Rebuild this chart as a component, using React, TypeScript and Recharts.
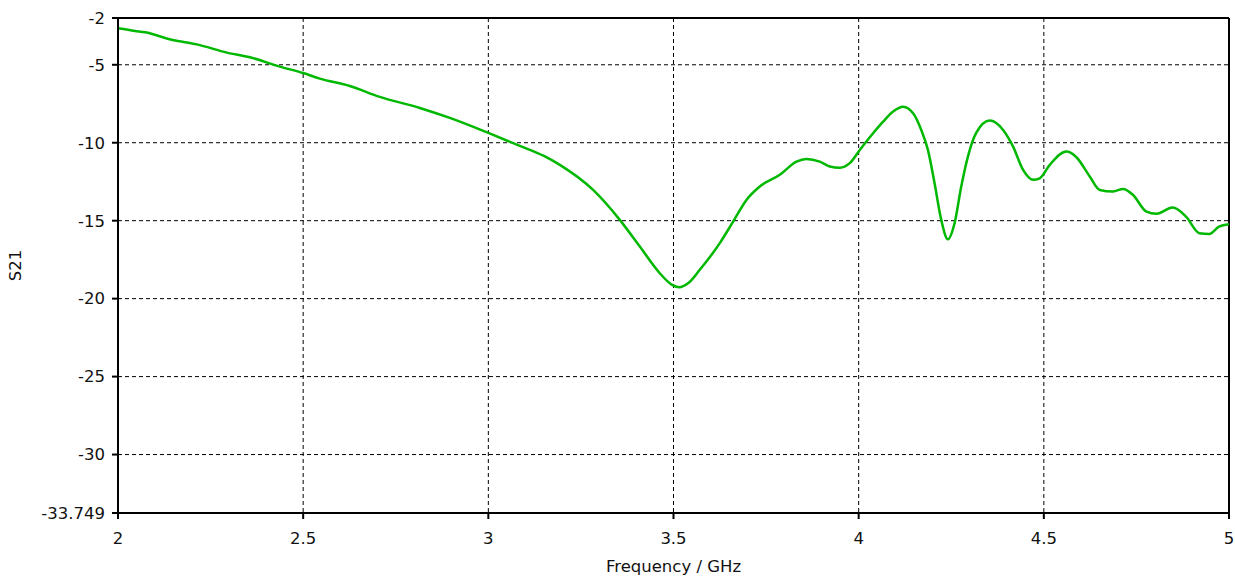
import React from 'react';
import { LineChart, Line, XAxis, YAxis, CartesianGrid, ReferenceLine } from 'recharts';

// Frequency points (GHz) and transmission coefficient S21 (dB)
const freqGHz = [
  2.0, 2.046, 2.073, 2.148, 2.213, 2.294, 2.356, 2.437, 2.5, 2.545,
  2.626, 2.707, 2.815, 2.896, 3.0, 3.085, 3.15, 3.193, 3.283, 3.355,
  3.409, 3.463, 3.495, 3.515, 3.54, 3.571, 3.625, 3.661, 3.697, 3.733, 3.787,
  3.832, 3.859, 3.895, 3.922, 3.949, 3.976, 4.003, 4.039, 4.066, 4.093,
  4.12, 4.147, 4.169, 4.187, 4.205, 4.223, 4.241, 4.259, 4.277, 4.295,
  4.317, 4.354, 4.39, 4.417, 4.444, 4.471, 4.489, 4.516, 4.561, 4.588,
  4.624, 4.651, 4.687, 4.714, 4.741, 4.777, 4.804, 4.848, 4.884, 4.92,
  4.947, 4.973, 5.0,
];
const s21dB = [
  -2.66, -2.83, -2.92, -3.41, -3.69, -4.22, -4.52, -5.12, -5.53, -5.89,
  -6.36, -7.06, -7.77, -8.41, -9.37, -10.2, -10.85, -11.42, -13.03, -14.95,
  -16.66, -18.37, -19.1, -19.27, -19.0, -18.15, -16.44, -15.06, -13.67, -12.81, -12.06,
  -11.21, -11.04, -11.21, -11.52, -11.6, -11.31, -10.46, -9.39, -8.65, -8.0,
  -7.69, -8.11, -9.18, -10.46, -12.6, -14.95, -16.19, -15.16, -12.81, -10.89,
  -9.39, -8.58, -9.18, -10.25, -11.74, -12.38, -12.28, -11.42, -10.57, -10.93,
  -12.17, -13.03, -13.13, -12.96, -13.35, -14.42, -14.56, -14.16, -14.74, -15.8,
  -15.85, -15.38, -15.23,
];

const xTicks = [2, 2.5, 3, 3.5, 4, 4.5, 5];
const yTicks = [-2, -5, -10, -15, -20, -25, -30, -33.749];
const gridX = [2.5, 3, 3.5, 4, 4.5];
const gridY = [-5, -10, -15, -20, -25, -30];

const data = freqGHz.map((f, i) => ({ f, s21: s21dB[i] }));

const font = { fontFamily: 'DejaVu Sans', fontSize: 16.5, fill: '#111' };

export default function App() {
  return (
    <div style={{ position: 'absolute', left: 0, top: 0, background: '#fff' }}>
      <LineChart
        width={1235}
        height={576}
        data={data}
        margin={{ top: 18, right: 6, bottom: 0, left: 0 }}
      >
        <CartesianGrid
          stroke="#000"
          strokeDasharray="4 3"
          horizontalValues={gridY}
          verticalValues={gridX}
        />
        <XAxis
          dataKey="f"
          type="number"
          domain={[2, 5]}
          ticks={xTicks}
          height={63}
          tickSize={6}
          tickMargin={13}
          stroke="#000"
          strokeWidth={2}
          tick={font}
          allowDataOverflow
          label={{ value: 'Frequency / GHz', position: 'insideBottom', offset: 4, style: font }}
        />
        <YAxis
          type="number"
          domain={[-33.749, -2]}
          ticks={yTicks}
          width={118}
          tickSize={6}
          tickMargin={7}
          stroke="#000"
          strokeWidth={2}
          tick={font}
          interval={0}
          allowDataOverflow
          label={{
            value: 'S21',
            angle: -90,
            position: 'insideLeft',
            offset: 15,
            style: { ...font, textAnchor: 'middle' },
          }}
        />
        <ReferenceLine y={-2} stroke="#000" strokeWidth={2} />
        <ReferenceLine x={5} stroke="#000" strokeWidth={2} />
        <Line
          type="monotone"
          dataKey="s21"
          stroke="#00b800"
          strokeWidth={2.5}
          dot={false}
          isAnimationActive={false}
        />
      </LineChart>
    </div>
  );
}
